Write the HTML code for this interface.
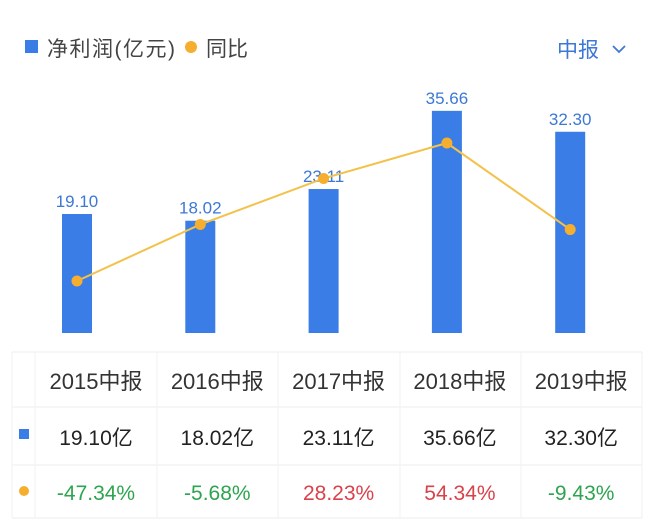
<!DOCTYPE html>
<html><head><meta charset="utf-8"><style>
body{margin:0;background:#fff;width:660px;height:521px;overflow:hidden;font-family:"Liberation Sans","Noto Sans CJK SC",sans-serif}
</style></head><body>
<svg id="c" width="660" height="521" xmlns="http://www.w3.org/2000/svg">
<g>
<rect x="25" y="40" width="13" height="13" fill="#3b7de6"/>
<text x="47" y="56" font-size="21" letter-spacing="1.5" fill="#444">净利润(亿元)</text>
<circle cx="191" cy="47" r="6" fill="#f5ae2e"/>
<text x="206" y="56" font-size="21" fill="#444">同比</text>
</g>
<g>
<text x="557" y="57" font-size="21" fill="#3c78d4">中报</text>
<path d="M613 46 l6 6 l6 -6" fill="none" stroke="#3c78d4" stroke-width="1.8"/>
</g>
<g id="bars"></g><g id="line"></g>
<g id="table"></g>
</svg>
<script>
const categories=["2015中报","2016中报","2017中报","2018中报","2019中报"];
const profit=[19.10,18.02,23.11,35.66,32.30];
const yoy=[-47.34,-5.68,28.23,54.34,-9.43];
const NS="http://www.w3.org/2000/svg";
const xc=i=>77+i*123.3;
const yBar=v=>333-v*6.23;
const yLine=v=>281-(v+47.34)*1.357;
function mk(t,a,p){const e=document.createElementNS(NS,t);for(const k in a)e.setAttribute(k,a[k]);p.appendChild(e);return e;}
const bars=document.getElementById('bars'),line=document.getElementById('line'),tb=document.getElementById('table');
profit.forEach((v,i)=>{
 const r=mk('rect',{x:xc(i)-15,y:yBar(v),width:30,height:333-yBar(v),fill:'#3b7de6'},bars);
 
 
 const t=mk('text',{x:xc(i),y:yBar(v)-7,'font-size':17,fill:'#3c78d4','text-anchor':'middle'},bars);
 t.textContent=v.toFixed(2);
 
 
});
const pl=mk('polyline',{points:yoy.map((v,i)=>xc(i)+','+yLine(v)).join(' '),fill:'none',stroke:'#f2c24b','stroke-width':2},line);


yoy.forEach((v,i)=>{
 const c=mk('circle',{cx:xc(i),cy:yLine(v),r:5.5,fill:'#f5ae2e'},line);
 
 
});
[352,407,465,518].forEach(y=>{const l=mk('line',{x1:12,x2:642,y1:y,y2:y,stroke:'#eee'},tb);});
[12,35,157,278,400,521,642].forEach(x=>{const l=mk('line',{x1:x,x2:x,y1:352,y2:518,stroke:'#f2f2f2'},tb);});
const s=mk('rect',{x:19,y:429,width:10,height:10,fill:'#3b7de6'},tb);


const d=mk('circle',{cx:24,cy:491,r:5,fill:'#f5ae2e'},tb);


const tx=i=>96+i*121.3;
categories.forEach((c,i)=>{
 const h=mk('text',{x:tx(i),y:389,'font-size':22,fill:'#333','text-anchor':'middle'},tb);h.textContent=c;
 
 
 const v=mk('text',{x:tx(i),y:445,'font-size':21,fill:'#222','text-anchor':'middle'},tb);v.textContent=profit[i].toFixed(2)+'亿';
 
 
 const p=mk('text',{x:tx(i),y:500,'font-size':21,fill:yoy[i]<0?'#2ea44f':'#d9424a','text-anchor':'middle'},tb);p.textContent=yoy[i].toFixed(2)+'%';
 
 
});
</script>
</body></html>
